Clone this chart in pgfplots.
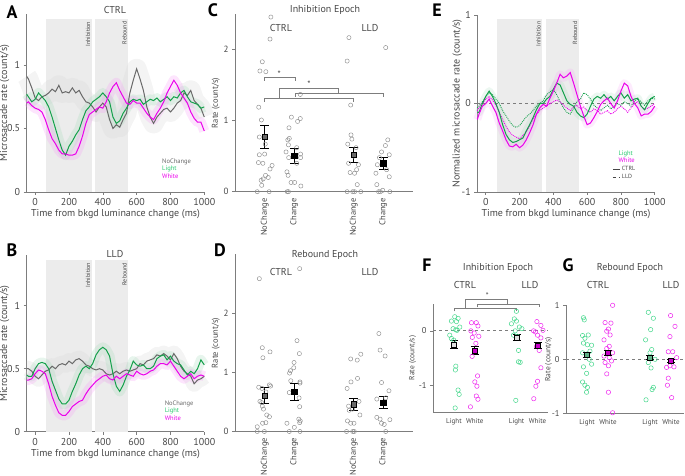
\documentclass[border=0pt]{standalone}
\usepackage{pgfplots}
\pgfplotsset{compat=1.18}
\usepackage{pgfplotstable}
\usepackage{fontspec}
\setmainfont{PT Sans}
\definecolor{cgreen}{RGB}{20,160,75}
\definecolor{cmag}{RGB}{235,0,235}
\definecolor{cgray}{RGB}{105,105,105}
\definecolor{rectc}{RGB}{236,236,236}
\definecolor{axc}{RGB}{125,125,125}
\definecolor{txc}{RGB}{70,70,70}
\definecolor{mint}{RGB}{70,215,140}
\definecolor{circ}{RGB}{140,140,140}
\definecolor{lgreen}{RGB}{40,200,110}

\pgfplotstableread{
t nc li wh
-50 0.91 0.77 0.70
-40 0.89 0.75 0.71
-20 0.82 0.71 0.68
0 0.74 0.73 0.66
20 0.72 0.78 0.65
40 0.75 0.75 0.63
60 0.76 0.72 0.57
80 0.78 0.67 0.49
100 0.81 0.59 0.42
120 0.79 0.50 0.38
140 0.84 0.41 0.33
160 0.78 0.33 0.30
180 0.79 0.29 0.30
200 0.78 0.36 0.29
220 0.82 0.40 0.29
240 0.78 0.45 0.30
260 0.80 0.49 0.36
280 0.75 0.57 0.44
300 0.71 0.64 0.54
320 0.70 0.67 0.61
340 0.67 0.71 0.63
360 0.63 0.73 0.65
380 0.67 0.75 0.67
400 0.70 0.78 0.66
420 0.67 0.75 0.71
440 0.57 0.71 0.78
460 0.50 0.59 0.83
480 0.53 0.54 0.86
500 0.51 0.56 0.80
520 0.57 0.62 0.75
540 0.62 0.66 0.70
560 0.78 0.71 0.69
580 0.88 0.73 0.72
600 0.97 0.72 0.70
620 0.89 0.73 0.70
640 0.80 0.69 0.66
660 0.67 0.71 0.62
680 0.59 0.73 0.59
700 0.54 0.72 0.57
720 0.59 0.74 0.62
740 0.62 0.71 0.66
760 0.65 0.73 0.71
780 0.66 0.75 0.78
800 0.63 0.72 0.83
820 0.66 0.75 0.88
840 0.70 0.74 0.84
860 0.72 0.78 0.78
880 0.78 0.80 0.74
900 0.76 0.75 0.70
920 0.80 0.71 0.63
940 0.72 0.70 0.58
960 0.69 0.69 0.55
980 0.66 0.66 0.55
1000 0.59 0.67 0.48
}\Adata

\pgfplotstableread{
t nc li wh
-50 0.50 0.45 0.41
-40 0.50 0.44 0.41
-20 0.48 0.44 0.42
0 0.44 0.50 0.46
20 0.42 0.54 0.49
40 0.45 0.55 0.48
60 0.48 0.54 0.46
80 0.49 0.50 0.38
100 0.52 0.40 0.28
120 0.50 0.33 0.21
140 0.53 0.26 0.15
160 0.54 0.22 0.13
180 0.53 0.22 0.13
200 0.56 0.25 0.16
220 0.54 0.32 0.20
240 0.57 0.38 0.22
260 0.58 0.45 0.24
280 0.56 0.50 0.25
300 0.53 0.52 0.30
320 0.52 0.50 0.34
340 0.50 0.54 0.37
360 0.49 0.61 0.40
380 0.50 0.65 0.42
400 0.49 0.67 0.44
420 0.46 0.65 0.45
440 0.45 0.60 0.42
460 0.46 0.46 0.41
480 0.48 0.36 0.44
500 0.46 0.32 0.42
520 0.48 0.37 0.44
540 0.49 0.44 0.46
560 0.48 0.49 0.45
580 0.49 0.56 0.44
600 0.50 0.53 0.48
620 0.54 0.52 0.46
640 0.53 0.53 0.45
660 0.56 0.50 0.46
680 0.57 0.50 0.48
700 0.58 0.52 0.49
720 0.61 0.58 0.52
740 0.60 0.60 0.54
760 0.62 0.61 0.54
780 0.60 0.57 0.53
800 0.57 0.60 0.56
820 0.62 0.56 0.52
840 0.58 0.54 0.48
860 0.52 0.53 0.44
880 0.48 0.49 0.42
900 0.46 0.45 0.44
920 0.44 0.48 0.46
940 0.38 0.46 0.42
960 0.41 0.50 0.44
980 0.42 0.57 0.45
1000 0.44 0.53 0.44
}\Bdata

\pgfplotstableread{
t lc wc ll wl
-50 -0.10 -0.18 -0.05 -0.08
-40 -0.10 -0.12 -0.03 -0.05
-20 0.00 -0.03 0.02 0.00
0 0.08 0.00 0.08 0.05
20 0.14 0.05 0.12 0.08
40 0.08 -0.03 0.10 0.04
60 0.00 -0.10 0.05 -0.02
80 -0.10 -0.22 0.00 -0.10
100 -0.24 -0.31 -0.08 -0.18
120 -0.35 -0.41 -0.14 -0.26
140 -0.41 -0.48 -0.20 -0.32
160 -0.44 -0.49 -0.25 -0.36
180 -0.43 -0.46 -0.27 -0.38
200 -0.41 -0.50 -0.25 -0.40
220 -0.39 -0.47 -0.20 -0.36
240 -0.31 -0.41 -0.15 -0.32
260 -0.24 -0.33 -0.12 -0.25
280 -0.16 -0.24 -0.08 -0.18
300 -0.07 -0.12 -0.03 -0.12
320 0.00 -0.05 0.00 -0.08
340 0.00 -0.01 0.03 -0.05
360 0.05 -0.03 0.10 -0.03
380 0.08 0.06 0.13 0.00
400 0.16 0.14 0.16 0.02
420 0.23 0.23 0.10 0.04
440 0.21 0.33 0.02 0.02
460 0.12 0.29 -0.05 -0.02
480 0.03 0.31 -0.10 -0.05
500 -0.01 0.35 -0.12 -0.08
520 -0.03 0.23 -0.05 -0.04
540 -0.10 0.10 0.02 -0.02
560 -0.14 -0.03 0.05 -0.06
580 -0.16 -0.14 0.12 -0.04
600 -0.12 -0.24 0.10 -0.08
620 -0.03 -0.22 0.05 -0.10
640 0.05 -0.16 -0.02 -0.06
660 0.08 -0.09 -0.05 -0.08
680 0.06 -0.01 -0.08 -0.12
700 0.10 0.03 -0.05 -0.10
720 0.05 0.06 -0.02 -0.08
740 0.08 0.00 -0.06 -0.12
760 0.03 -0.05 -0.03 -0.10
780 0.08 0.03 0.00 -0.06
800 0.12 0.14 -0.02 -0.03
820 0.06 0.23 0.02 -0.06
840 0.10 0.20 0.00 -0.10
860 0.03 0.08 -0.03 -0.05
880 0.05 0.00 0.03 0.00
900 0.06 -0.05 0.05 0.02
920 -0.03 -0.14 0.02 -0.03
940 -0.07 -0.12 -0.02 -0.07
960 0.00 -0.12 0.03 -0.05
980 0.06 -0.09 0.06 -0.03
1000 0.08 -0.03 0.05 0.00
}\Edata

\pgfplotsset{
  base/.style={scale only axis, axis lines=left,
    axis line style={draw=axc, line width=0.6pt, -},
    every tick/.style={axc, line width=0.6pt},
    tick align=outside, major tick length=3pt, clip=false,
    /pgf/number format/assume math mode=true,
    /pgf/number format/1000 sep={},
    ticklabel style={text=txc, font=\fontsize{10}{12}\selectfont},
    label style={text=txc, font=\fontsize{10}{12}\selectfont}},
  ts/.style={base, anchor=south west, xmin=-50, xmax=1000, xtick={0,200,...,1000},
    xlabel={Time from bkgd luminance change (ms)}, width=177.6pt,
    xlabel style={yshift=3pt}},
  cat/.style={base, anchor=south west, xmin=0, xmax=6, ytick={0,1,2}, xtick={1,2,4,5},
    xticklabels={NoChange,Change,NoChange,Change}, xtick style={draw=none},
    xticklabel style={rotate=90, anchor=east, font=\fontsize{8.5}{10}\selectfont},
    ylabel={Rate (count/s)}, ylabel style={font=\fontsize{8.5}{10}\selectfont},
    ylabel shift=-3pt,
    ticklabel style={font=\fontsize{9}{10}\selectfont}, width=178pt},
  cat2/.style={base, anchor=south west, xtick={1,2,4,5},
    xticklabels={Light,White,Light,White}, xtick style={draw=none},
    xticklabel style={font=\fontsize{7}{8}\selectfont},
    yticklabel style={font=\fontsize{8.5}{10}\selectfont},
    ylabel={Rate (count/s)}, ylabel style={font=\fontsize{7.5}{9}\selectfont}},
  circs/.style={only marks, mark=o, mark size=2.1pt, circ, mark options={line width=0.45pt}},
  fcirc/.style={only marks, mark=o, mark size=2.2pt, #1, mark options={line width=0.5pt}},
  meanm/.style={only marks, mark=square*, mark size=2.7pt,
    mark options={fill=#1, draw=black, line width=0.5pt},
    error bars/.cd, y dir=both, y explicit,
    error bar style={black, line width=0.7pt},
    error mark options={black, mark size=4.5pt, line width=0.7pt, rotate=90}},
  meanf/.style={only marks, mark=square*, mark size=2.5pt,
    mark options={fill=#1, draw=black, line width=0.5pt},
    error bars/.cd, y dir=both, y explicit,
    error bar style={black, line width=0.7pt},
    error mark options={black, mark size=4pt, line width=0.7pt, rotate=90}},
}
\tikzset{smalllab/.style={font=\fontsize{6}{7}\selectfont, text=txc, inner sep=1pt},
  ttl/.style={font=\fontsize{10}{12}\selectfont, text=txc},
  plet/.style={font=\fontsize{18}{18}\selectfont\bfseries, text=black}}

\begin{document}
\begin{tikzpicture}
\useasboundingbox (0,0) rectangle (685pt,476pt);

% ---------------- A ----------------
\begin{axis}[ts, at={(26.7pt,284pt)}, height=177.8pt, ymin=0, ymax=1.4, ytick={0,0.5,1},
  ylabel={Microsaccade rate (count/s)}, ylabel shift=-9pt]
\fill[rectc] (axis cs:65,0) rectangle (axis cs:335,1.36);
\fill[rectc] (axis cs:355,0) rectangle (axis cs:550,1.36);
\node[smalllab, rotate=90, anchor=south east] at (axis cs:333,1.35) {Inhibition};
\node[smalllab, rotate=90, anchor=south east] at (axis cs:548,1.35) {Rebound};
\addplot[gray!30, line width=20pt, opacity=0.3, line join=round] table[x=t,y=nc]{\Adata};
\addplot[cgreen!40, line width=10pt, opacity=0.25, line join=round] table[x=t,y=li]{\Adata};
\addplot[cmag!40, line width=10pt, opacity=0.25, line join=round] table[x=t,y=wh]{\Adata};
\addplot[cgray, line width=1pt] table[x=t,y=nc]{\Adata};
\addplot[cgreen, line width=1pt] table[x=t,y=li]{\Adata};
\addplot[cmag, line width=1pt] table[x=t,y=wh]{\Adata};
\node[anchor=west, inner sep=0, font=\fontsize{6.5}{7}\selectfont, text=cgray] at (axis cs:750,0.236) {NoChange};
\node[anchor=west, inner sep=0, font=\fontsize{6.5}{7}\selectfont, text=lgreen] at (axis cs:750,0.181) {Light};
\node[anchor=west, inner sep=0, font=\fontsize{6.5}{7}\selectfont, text=cmag] at (axis cs:750,0.126) {White};
\end{axis}

% ---------------- B ----------------
\begin{axis}[ts, at={(26.7pt,44.3pt)}, height=176.4pt, ymin=0, ymax=1.4, ytick={0,0.5,1},
  ylabel={Microsaccade rate (count/s)}, ylabel shift=-9pt]
\fill[rectc] (axis cs:65,0) rectangle (axis cs:335,1.36);
\fill[rectc] (axis cs:355,0) rectangle (axis cs:550,1.36);
\node[smalllab, rotate=90, anchor=south east] at (axis cs:333,1.35) {Inhibition};
\node[smalllab, rotate=90, anchor=south east] at (axis cs:548,1.35) {Rebound};
\addplot[gray!30, line width=16pt, opacity=0.3, line join=round] table[x=t,y=nc]{\Bdata};
\addplot[cgreen!40, line width=10pt, opacity=0.25, line join=round] table[x=t,y=li]{\Bdata};
\addplot[cmag!40, line width=10pt, opacity=0.25, line join=round] table[x=t,y=wh]{\Bdata};
\addplot[cgray, line width=1pt] table[x=t,y=nc]{\Bdata};
\addplot[cgreen, line width=1pt] table[x=t,y=li]{\Bdata};
\addplot[cmag, line width=1pt] table[x=t,y=wh]{\Bdata};
\node[anchor=west, inner sep=0, font=\fontsize{6.5}{7}\selectfont, text=cgray] at (axis cs:765,0.22) {NoChange};
\node[anchor=west, inner sep=0, font=\fontsize{6.5}{7}\selectfont, text=lgreen] at (axis cs:765,0.164) {Light};
\node[anchor=west, inner sep=0, font=\fontsize{6.5}{7}\selectfont, text=cmag] at (axis cs:765,0.109) {White};
\end{axis}

% ---------------- C ----------------
\begin{axis}[cat, at={(235pt,284.3pt)}, height=177.5pt, ymin=0, ymax=2.5]
\addplot[circs] coordinates {
(1.21,2.46)(1.18,2.15)(0.92,1.83)(0.84,1.70)(1.04,1.69)(0.80,1.19)(0.89,1.01)(0.82,0.77)(1.02,0.67)(1.00,0.53)(0.82,0.52)(0.79,0.41)(0.94,0.40)(1.25,0.37)(1.18,0.32)(1.03,0.23)(1.12,0.20)(0.88,0.16)(0.95,0.18)(0.90,0.09)(0.75,0)(1.15,0)
(1.90,1.05)(2.20,1.03)(2.11,0.99)(1.82,0.90)(1.83,0.75)(1.78,0.73)(1.80,0.66)(2.08,0.62)(1.72,0.56)(2.21,0.53)(1.81,0.48)(2.21,0.48)(2.08,0.40)(1.75,0.28)(1.79,0.23)(1.89,0.13)(2.01,0.13)(2.22,0.08)(1.76,0)(1.80,0)(2.20,1.37)
(3.84,2.17)(3.78,1.84)(3.90,1.22)(3.91,0.80)(3.94,0.74)(3.80,0.67)(4.08,0.62)(4.00,0.50)(3.83,0.40)(4.16,0.38)(4.10,0.31)(3.88,0.27)(4.03,0.26)(4.12,0.10)(3.78,0)(3.97,0)(4.03,0)(4.24,0)
(5.08,2.03)(5.15,0.73)(5.07,0.65)(4.94,0.56)(5.20,0.52)(4.87,0.48)(4.80,0.38)(4.75,0.26)(5.11,0.31)(5.20,0.21)(4.78,0.10)(4.98,0.02)(5.22,0)(4.84,0)(4.90,0)
};
\addplot[meanm=cgray] coordinates {(1,0.77) +- (0,0.16) (4,0.52) +- (0,0.11)};
\addplot[meanm=black] coordinates {(2,0.51) +- (0,0.105) (5,0.40) +- (0,0.085)};
\draw[axc, line width=0.7pt] (axis cs:0.99,1.56) -- (axis cs:0.99,1.61) -- (axis cs:2.02,1.61) -- (axis cs:2.02,1.56);
\node[text=txc, font=\fontsize{9}{9}\selectfont, inner sep=0] at (axis cs:1.49,1.66) {*};
\draw[axc, line width=0.7pt] (axis cs:0.99,1.26) -- (axis cs:0.99,1.31) -- (axis cs:3.99,1.31) -- (axis cs:3.99,1.26);
\draw[axc, line width=0.7pt] (axis cs:2.02,1.34) -- (axis cs:2.02,1.39) -- (axis cs:5.01,1.39) -- (axis cs:5.01,1.34);
\draw[axc, line width=0.7pt] (axis cs:1.49,1.31) -- (axis cs:1.49,1.46) -- (axis cs:3.5,1.46) -- (axis cs:3.5,1.39);
\node[text=txc, font=\fontsize{9}{9}\selectfont, inner sep=0] at (axis cs:2.49,1.51) {*};
\end{axis}

% ---------------- D ----------------
\begin{axis}[cat, at={(235pt,44.5pt)}, height=177pt, ymin=0, ymax=3]
\addplot[circs] coordinates {
(0.82,2.59)(0.92,1.42)(0.94,1.25)(1.18,1.35)(0.80,0.75)(1.16,0.79)(1.20,0.77)(0.91,0.73)(1.04,0.67)(0.84,0.51)(0.90,0.49)(0.96,0.38)(0.92,0.43)(1.07,0.28)(1.16,0.25)(1.04,0.15)(0.93,0.14)(0.75,0.08)(0.75,0)(0.99,0)
(2.18,2.76)(2.09,1.54)(2.17,1.32)(1.99,1.17)(1.84,0.99)(1.87,1.03)(1.98,1.08)(1.88,0.86)(2.19,0.84)(2.19,0.82)(1.83,0.66)(2.16,0.57)(2.18,0.42)(2.15,0.21)(2.20,0.18)(2.18,0.15)(1.75,0.14)(2.00,0.07)(1.83,0)(2.19,0)
(3.90,1.23)(4.12,1.21)(4.24,1.31)(4.13,0.90)(3.91,0.84)(3.78,0.73)(4.18,0.51)(3.83,0.43)(3.96,0.38)(3.85,0.36)(4.21,0.28)(3.79,0.18)(3.90,0.14)(4.01,0.14)(3.76,0)(3.97,0)(4.02,0)
(4.85,1.66)(4.89,1.38)(5.06,1.28)(4.94,0.83)(5.19,0.69)(4.78,0.55)(5.08,0.57)(4.78,0.24)(4.89,0.21)(5.22,0.20)(4.94,0.14)(5.03,0.12)(5.08,0)
};
\addplot[meanm=cgray] coordinates {(1,0.61) +- (0,0.13) (4,0.46) +- (0,0.10)};
\addplot[meanm=black] coordinates {(2,0.67) +- (0,0.145) (5,0.49) +- (0,0.105)};
\end{axis}

% ---------------- E ----------------
\begin{axis}[ts, at={(477.3pt,284pt)}, width=177.4pt, height=177pt, ymin=-1, ymax=1, ytick={-1,0,1},
  ylabel={Normalized microsaccade rate (count/s)}, ylabel shift=-7pt]
\fill[rectc] (axis cs:65,-1) rectangle (axis cs:335,0.95);
\fill[rectc] (axis cs:355,-1) rectangle (axis cs:550,0.95);
\node[smalllab, rotate=90, anchor=south east] at (axis cs:333,0.94) {Inhibition};
\node[smalllab, rotate=90, anchor=south east] at (axis cs:548,0.94) {Rebound};
\addplot[cgreen!40, line width=8pt, opacity=0.2, line join=round] table[x=t,y=lc]{\Edata};
\addplot[cmag!40, line width=8pt, opacity=0.2, line join=round] table[x=t,y=wc]{\Edata};
\draw[axc, dashed, line width=0.8pt] (axis cs:-50,0) -- (axis cs:1000,0);
\addplot[cgreen, line width=0.9pt, densely dotted] table[x=t,y=ll]{\Edata};
\addplot[cmag, line width=0.9pt, densely dotted] table[x=t,y=wl]{\Edata};
\addplot[cgreen, line width=1pt] table[x=t,y=lc]{\Edata};
\addplot[cmag, line width=1pt] table[x=t,y=wc]{\Edata};
\node[anchor=west, inner sep=0, font=\fontsize{6.5}{7}\selectfont, text=lgreen] at (axis cs:785,-0.565) {Light};
\node[anchor=west, inner sep=0, font=\fontsize{6.5}{7}\selectfont, text=cmag] at (axis cs:785,-0.64) {White};
\draw[txc, line width=0.6pt] (axis cs:752,-0.74) -- (axis cs:795,-0.74);
\draw[txc, line width=0.6pt, dashed] (axis cs:752,-0.83) -- (axis cs:795,-0.83);
\node[anchor=west, inner sep=0, font=\fontsize{6}{7}\selectfont, text=txc] at (axis cs:805,-0.735) {CTRL};
\node[anchor=west, inner sep=0, font=\fontsize{6}{7}\selectfont, text=txc] at (axis cs:805,-0.825) {LLD};
\end{axis}

% ---------------- F ----------------
\begin{axis}[cat2, at={(433pt,63.7pt)}, width=115pt, height=108.6pt, xmin=0, xmax=5.5, ymin=-1.5, ymax=0.5, ytick={-1,0}, ylabel shift=-4pt]
\draw[axc, dashed, line width=0.8pt] (axis cs:0,0) -- (axis cs:5.5,0);
\addplot[fcirc=mint] coordinates {
(1.04,0.26)(1.20,0.23)(0.88,0.18)(1.12,0.17)(1.28,0.07)(0.96,0.04)(1.09,0.02)(1.15,0.01)(0.80,-0.08)(0.88,-0.14)(0.99,-0.17)(1.09,-0.65)(1.07,-0.72)(1.20,-1.09)(1.25,-1.17)(1.06,-1.42)
(3.99,0.36)(3.89,0.22)(3.99,0.18)(3.75,0.13)(4.13,0.07)(4.25,0.04)(3.93,0)(3.85,-0.08)(4.04,-0.10)(4.09,-0.36)(4.09,-0.57)(4.17,-0.58)(3.96,-1.28)
};
\addplot[fcirc=cmag!85] coordinates {
(1.84,0.15)(2.07,0.15)(2.15,0.09)(1.81,0)(1.97,-0.04)(2.19,-0.10)(1.88,-0.12)(2.05,-0.23)(1.87,-0.47)(2.13,-0.83)(2.0,-0.94)(2.1,-1.02)(2.07,-1.20)(2.15,-1.26)(1.79,-1.40)
(4.97,0.17)(5.16,0.10)(5.26,0.01)(4.81,0)(4.90,-0.02)(5.0,-0.08)(5.16,-0.13)(4.95,-0.29)(5.08,-0.36)(5.16,-0.68)(5.0,-0.93)(4.92,-1.02)(4.82,-1.25)
};
\addplot[meanf=gray!25] coordinates {(1,-0.25) +- (0,0.07) (4,-0.12) +- (0,0.05)};
\addplot[meanf=cmag!85!black] coordinates {(2,-0.36) +- (0,0.075) (5,-0.27) +- (0,0.06)};
\draw[axc, line width=0.7pt] (axis cs:1,0.36) -- (axis cs:1,0.41) -- (axis cs:4,0.41) -- (axis cs:4,0.36);
\draw[axc, line width=0.7pt] (axis cs:2.1,0.43) -- (axis cs:2.1,0.48) -- (axis cs:5.1,0.48) -- (axis cs:5.1,0.43);
\draw[axc, line width=0.7pt] (axis cs:1.55,0.41) -- (axis cs:1.55,0.58) -- (axis cs:3.55,0.58) -- (axis cs:3.55,0.48);
\node[text=txc, font=\fontsize{8}{8}\selectfont, inner sep=0] at (axis cs:2.6,0.64) {*};
\end{axis}

% ---------------- G ----------------
\begin{axis}[cat2, at={(566pt,62.7pt)}, width=117.6pt, height=108pt, xmin=0, xmax=5.6, ymin=-1, ymax=1, ytick={-1,0,1}, ylabel shift=-7pt]
\draw[axc, dashed, line width=0.8pt] (axis cs:0,0) -- (axis cs:5.6,0);
\addplot[fcirc=mint] coordinates {
(0.83,0.77)(0.87,0.73)(0.79,0.44)(1.06,0.45)(0.9,0.39)(0.83,0.30)(1.02,0.27)(1.22,0.26)(1.14,0.15)(0.79,0.12)(1.02,0.10)(1.11,0)(1.22,-0.09)(0.83,-0.14)(0.98,-0.26)(0.79,-0.42)(0.9,-0.48)(1.02,-0.52)(0.98,-0.61)
(3.92,0.87)(4.16,0.76)(4.03,0.55)(3.79,0.36)(4.08,0.18)(4.0,0.12)(4.24,0)(3.92,-0.06)(4.05,-0.16)(4.16,-0.52)(4.10,-0.56)(3.81,-0.75)
};
\addplot[fcirc=cmag!85] coordinates {
(2.22,1.0)(1.86,0.68)(2.14,0.67)(2.02,0.56)(1.94,0.52)(2.10,0.45)(1.81,0.36)(2.06,0.24)(1.94,0.2)(2.22,0.12)(1.81,0.06)(2.06,0.03)(2.17,-0.03)(1.86,-0.06)(2.02,-0.12)(1.94,-0.27)(2.02,-0.61)(2.22,-0.99)
(4.98,0.81)(5.19,0.61)(4.95,0.42)(4.87,0.14)(5.08,0.14)(5.27,0.03)(4.95,-0.12)(4.79,-0.15)(5.14,-0.14)(4.87,-0.35)(4.83,-0.48)(5.03,-0.71)
};
\addplot[meanf=gray!45!mint] coordinates {(1,0.08) +- (0,0.04) (4,0.03) +- (0,0.035)};
\addplot[meanf=cmag!85!black] coordinates {(2,0.12) +- (0,0.045) (5,-0.03) +- (0,0.035)};
\end{axis}

% ---------------- texts ----------------
\node[plet] at (12pt,464pt) {A};
\node[plet] at (12pt,226pt) {B};
\node[plet] at (213pt,466pt) {C};
\node[plet] at (220pt,226pt) {D};
\node[plet] at (437pt,466pt) {E};
\node[plet] at (427pt,211pt) {F};
\node[plet] at (568pt,211pt) {G};
\node[ttl] at (115pt,466pt) {CTRL};
\node[ttl] at (115pt,222pt) {LLD};
\node[ttl] at (325pt,466pt) {Inhibition Epoch};
\node[ttl] at (281pt,448pt) {CTRL};
\node[ttl] at (370pt,448pt) {LLD};
\node[ttl] at (325pt,221pt) {Rebound Epoch};
\node[ttl] at (281pt,204pt) {CTRL};
\node[ttl] at (370pt,204pt) {LLD};
\node[ttl] at (498pt,208pt) {Inhibition Epoch};
\node[ttl] at (465pt,191pt) {CTRL};
\node[ttl] at (530pt,191pt) {LLD};
\node[ttl] at (630pt,208pt) {Rebound Epoch};
\node[ttl] at (598pt,191pt) {CTRL};
\node[ttl] at (671pt,191pt) {LLD};
\end{tikzpicture}
\end{document}
